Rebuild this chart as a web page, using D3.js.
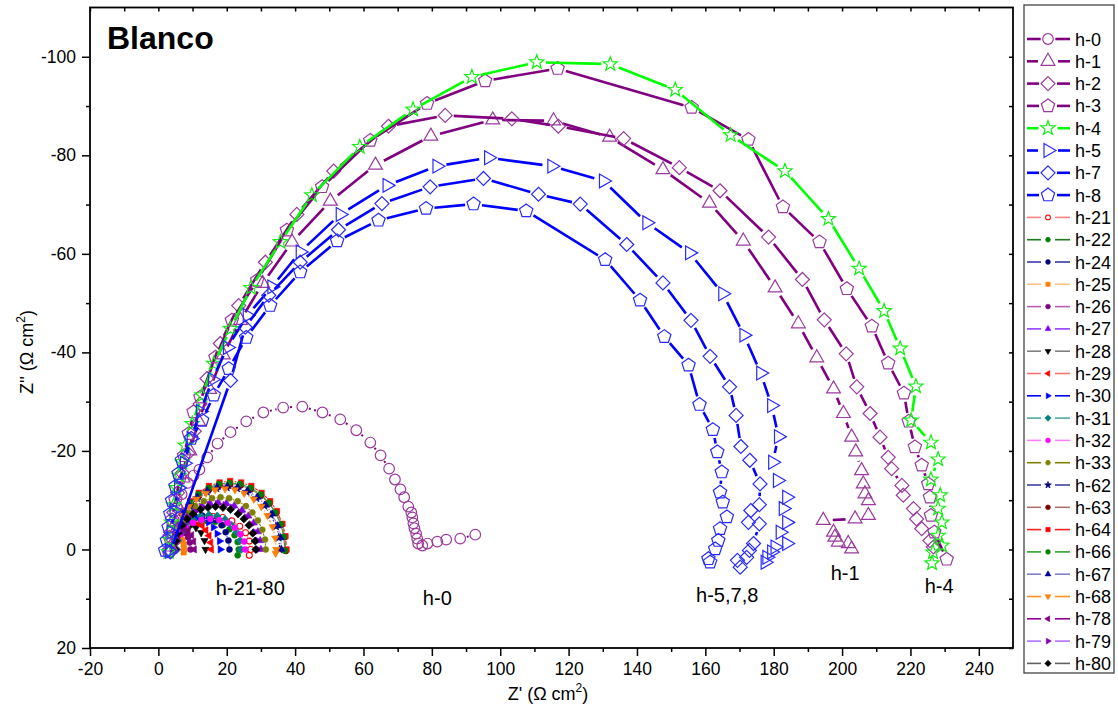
<!DOCTYPE html>
<html><head><meta charset="utf-8">
<script src="https://cdn.jsdelivr.net/npm/d3@7"></script>
<style>body{margin:0;background:#fff} text{font-family:"Liberation Sans",Arial,sans-serif}</style>
</head><body>
<svg id="c" width="1118" height="713"></svg>
<script>
// ---------- tick values ----------
const xTicks = [-20,0,20,40,60,80,100,120,140,160,180,200,220,240];
const xMinor = [-10,10,30,50,70,90,110,130,150,170,190,210,230];
const yTicks = [-100,-80,-60,-40,-20,0,20];
const yMinor = [-90,-70,-50,-30,-10,10];

// ---------- data: [Z', Z''] ----------
const h0 = [[3.2,0.5],[3.6,-2.5],[4.3,-5.5],[5.4,-8.5],[6.8,-11.2],[8.6,-13.5],[10.3,-15],[12.0,-16.2],[14.3,-18.7],[17.3,-21.5],[21.1,-23.8],[25.7,-26.0],[30.7,-27.8],[36.5,-28.8],[42.1,-29.0],[48.0,-27.8],[53.2,-26.4],[57.9,-24.2],[62.0,-21.7],[65.0,-19.1],[67.5,-16.4],[69.2,-14.2],[70.8,-12.2],[71.9,-10.6],[73.1,-8.7],[74.0,-7.5],[74.3,-6.5],[74.6,-5.3],[74.9,-4.3],[75.4,-3.2],[75.7,-2.2],[76.0,-1.2],[77.2,-0.8],[78.7,-1.2],[81.6,-1.6],[84.2,-2.0],[88.3,-2.2],[92.7,-3.0]];
const h1 = [[3.6,-0.5],[4.3,-4.5],[5.5,-9],[7.2,-14.5],[9.2,-20],[11.8,-26],[15,-32.5],[19,-39.5],[24,-46.5],[30.5,-54],[39.1,-62.4],[50.3,-70.7],[63.5,-78],[79.7,-83.9],[97.8,-87.2],[115.6,-87],[132,-83.7],[147.6,-77.1],[161.2,-70.3],[171.1,-62.6],[180.4,-53.1],[187.2,-45.8],[192.6,-38.9],[197.5,-32.6],[200.4,-27.6],[202.8,-22.8],[204,-19.8],[205.7,-16],[206.2,-13.3],[206.7,-11.3],[207.7,-9.9],[207.7,-6.9],[203.8,-6.2],[194.5,-5.9],[197.5,-3.5],[197.9,-2.5],[198.9,-1.5],[201.8,-1.2],[202.8,-0.1]];
const h2 = [[3.2,0],[3.6,-3.5],[4.5,-7.5],[5.6,-11.5],[7,-15.5],[8.6,-19.5],[10.5,-24],[12.2,-29.5],[14.2,-34.7],[18.1,-41.8],[23.5,-49.5],[31.3,-58.3],[40.5,-68],[51.3,-76.8],[67.3,-85.9],[83.9,-88.1],[103.4,-87.4],[117.0,-85.9],[136.1,-83.4],[152.4,-77.5],[164.3,-72.8],[178.5,-63.4],[188.4,-54.8],[194.8,-46.6],[201.2,-39.7],[204.3,-33.0],[208.2,-27.6],[211.1,-22.8],[213.5,-18.7],[214.5,-16.4],[217.5,-13.0],[217.9,-11.0],[220.9,-8.3],[221.8,-6.2],[223.3,-4.2],[225.7,-1.8],[226.7,-0.5]];
const h3 = [[3,0.5],[3.3,-2.5],[4,-6],[5,-10],[6.3,-14.5],[7.5,-19],[8.9,-23.5],[10.3,-27.9],[12.3,-30.9],[16.7,-39.0],[21.5,-46.5],[28.9,-54.6],[37.6,-64.8],[47.9,-73.6],[62.0,-83.0],[78.6,-90.5],[95.6,-95.1],[116.8,-97.6],[156.0,-89.7],[172.6,-83.2],[182.7,-69.5],[193.4,-62.4],[201.4,-52.9],[208.7,-45.3],[213.5,-37.8],[218.1,-31.7],[219.5,-26],[221.3,-20.8],[223.3,-17.1],[225.2,-13.3],[225.7,-10.6],[226.0,-6.9],[227,-3.5],[230.6,2.0]];
const h4 = [[3,0.5],[3.2,-2],[3.8,-5.5],[4.5,-9],[5.3,-12.5],[6.1,-15],[7.0,-17.7],[7.9,-21.1],[9.9,-25.5],[12.8,-31.3],[16.2,-37.7],[21.1,-44.8],[27.1,-53.1],[35.7,-62.4],[44.9,-71.9],[58.9,-81.7],[74.5,-89.3],[91.7,-95.9],[110.7,-98.9],[132.2,-98.5],[151.2,-93.3],[167.4,-84.1],[183.3,-76.8],[196.0,-67.1],[205.0,-57.0],[212.3,-48.4],[217.0,-40.8],[221.6,-33.1],[220.2,-26.2],[226.0,-21.7],[228.1,-18.3],[226.0,-14.2],[228.7,-11.0],[228.1,-8.3],[229.2,-5.5],[228.1,-2.8],[229.2,-0.8],[226.6,0.6],[226.3,2.8]];
const h5 = [[3.3,0.3],[3.7,-3.5],[4.6,-8],[5.9,-12.5],[7.6,-17.5],[9.6,-22.5],[12.3,-28],[15.8,-34.5],[20.2,-41],[26,-47.5],[33.2,-53.3],[41.5,-60.4],[53.2,-68],[66.9,-73.9],[81.5,-77.8],[96.6,-79.5],[115.1,-77.8],[130.2,-74.8],[142.9,-66.3],[155.4,-60.2],[165.1,-51.9],[171.3,-43.5],[176.2,-35.8],[179.4,-29.2],[181.4,-22.9],[179.7,-17.7],[181.1,-14],[183.8,-10.6],[182.8,-8.3],[183.8,-5.5],[181.9,-3.5],[183.8,-1.2],[180.4,-0.5],[179.4,0.5],[178,1.6],[177.5,2.6]];
const h7 = [[3.5,0.5],[21.1,-34.3],[25.4,-45.1],[32.3,-51.6],[41.5,-58.3],[52.7,-64.9],[65.4,-70.2],[79.5,-73.6],[95.1,-75.3],[111.2,-72.1],[123.4,-70.1],[137,-61.9],[147.6,-54.1],[155.8,-46.5],[161.4,-39.2],[167.1,-33],[169,-27.2],[170.4,-20.9],[173,-18.1],[176,-13.3],[175.8,-9.1],[173.3,-7.9],[172.6,-5.5],[175.8,-5.2],[174.1,-1.2],[172.9,0.2],[172.1,1.6],[169.4,2.2],[170.2,3.6]];
const h8 = [[2,0.2],[2.5,-1.8],[3,-4.5],[3.5,-7.2],[4,-9.9],[5,-12.8],[5.9,-15.4],[6.9,-18.1],[9.6,-22.5],[12.8,-26.2],[16.2,-31.3],[20.6,-36.7],[25.7,-43],[32.7,-49.5],[41.5,-56.3],[52.3,-62.6],[64.4,-66.8],[78.3,-69.2],[92.2,-70.1],[107.6,-68.7],[130.7,-58.8],[140.9,-50.6],[148,-43.2],[155.1,-37.4],[158.3,-29.4],[162.2,-24.3],[163.5,-19.8],[164.8,-15.7],[164.3,-11.6],[165.1,-9.6],[166.3,-6.6],[164.3,-4.2],[163.8,-1.8],[162.9,-0.1],[160.9,1.9],[161.4,2.6]];

const h21 = [[5,0],[5.4,-1.7],[6.5,-3.4],[8.2,-4.7],[10.5,-5.8],[13.2,-6.5],[16,-6.7],[18.8,-6.5],[21.5,-5.8],[23.8,-4.7],[25.5,-3.4],[26.6,-1.7],[27,0],[26.6,1.2]];
const h22 = [[4.9,0],[5.2,-1.5],[6.2,-2.9],[7.6,-4.1],[9.6,-5],[11.8,-5.6],[14.2,-5.8],[16.6,-5.6],[18.9,-5],[20.8,-4.1],[22.3,-2.9],[23.2,-1.5],[23.5,0],[23.2,1.2]];
const h24 = [[4.8,0],[5.1,-1.8],[5.9,-3.5],[7.1,-4.9],[8.8,-6],[10.7,-6.7],[12.8,-6.9],[14.9,-6.7],[16.8,-6],[18.5,-4.9],[19.7,-3.5],[20.5,-1.8],[20.8,0]];
const h25 = [[4.5,0],[4.6,-1],[4.9,-1.8],[5.4,-2.4],[6,-2.6],[6.6,-2.4],[7.1,-1.8],[7.4,-1],[7.5,0],[7.4,0.6]];
const h26 = [[4.8,0],[5,-1.4],[5.5,-2.5],[6.2,-3.3],[7.1,-3.6],[8,-3.3],[8.7,-2.5],[9.2,-1.4],[9.4,0]];
const h27 = [[5,0],[5.2,-1.8],[5.9,-3.6],[7.1,-5.4],[8.7,-6.8],[10.5,-8],[12.8,-8.9],[15.1,-9.4],[17.5,-9.6],[19.9,-9.4],[22.2,-8.9],[24.5,-8],[26.3,-6.8],[27.9,-5.4],[29.1,-3.6],[29.8,-1.8],[30,0]];
const h28 = [[4.6,0],[5,-1.8],[6,-3.4],[7.4,-4.4],[9.2,-4.8],[11,-4.4],[12.5,-3.4],[13.5,-1.8],[13.8,0]];
const h29 = [[4.5,0],[4.7,-1.4],[5.2,-2.8],[6.1,-3.9],[7.3,-4.8],[8.6,-5.3],[10,-5.5],[11.4,-5.3],[12.8,-4.8],[13.9,-3.9],[14.8,-2.8],[15.3,-1.4],[15.5,0]];
const h30 = [[4.3,0],[4.5,-1.7],[5.2,-3.2],[6.3,-4.5],[7.8,-5.5],[9.4,-6.2],[11.2,-6.4],[13,-6.2],[14.7,-5.5],[16.1,-4.5],[17.2,-3.2],[17.9,-1.7],[18.1,0]];
const h31 = [[5.4,0],[5.7,-1.8],[6.7,-3.5],[8.2,-4.9],[10.1,-6.1],[12.4,-6.8],[14.8,-7],[17.2,-6.8],[19.5,-6.1],[21.4,-4.9],[22.9,-3.5],[23.9,-1.8],[24.2,0]];
const h32 = [[5,0],[5.3,-1.6],[6.4,-3.1],[8,-4.4],[10.1,-5.4],[12.6,-6],[15.2,-6.2],[17.8,-6],[20.3,-5.4],[22.4,-4.4],[24,-3.1],[25.1,-1.6],[25.4,0]];
const h33 = [[5,0],[5.2,-2],[6,-4],[7.3,-5.9],[8.9,-7.5],[10.8,-8.8],[13.3,-9.8],[15.7,-10.4],[18.2,-10.6],[20.7,-10.4],[23.2,-9.8],[25.6,-8.8],[27.5,-7.5],[29.1,-5.9],[30.4,-4],[31.2,-2],[31.4,0]];
const h62 = [[4.5,0],[4.8,-2.4],[5.6,-4.7],[7.2,-7],[9,-8.9],[11.3,-10.4],[14.2,-11.7],[17,-12.4],[20,-12.6],[23,-12.4],[25.8,-11.7],[28.7,-10.4],[31,-8.9],[32.9,-7],[34.4,-4.7],[35.2,-2.4],[35.5,0]];
const h63 = [[4.7,0],[5,-2.5],[5.9,-5],[7.5,-7.4],[9.5,-9.3],[11.9,-10.9],[14.9,-12.2],[17.9,-13],[21,-13.2],[24.1,-13],[27.1,-12.2],[30.1,-10.9],[32.5,-9.3],[34.5,-7.4],[36.1,-5],[37,-2.5],[37.3,0.3]];
const h64 = [[4.5,0],[4.8,-2.7],[5.7,-5.2],[7.3,-7.8],[9.3,-9.8],[11.8,-11.5],[14.8,-12.9],[17.9,-13.6],[21,-13.9],[24.2,-13.6],[27.2,-12.9],[30.2,-11.5],[32.7,-9.8],[34.7,-7.8],[36.3,-5.2],[37.2,-2.7],[37.5,0]];
const h66 = [[4.6,0],[4.9,-2.6],[5.8,-5.1],[7.4,-7.5],[9.4,-9.5],[11.7,-11.2],[14.7,-12.5],[17.7,-13.3],[20.8,-13.5],[23.9,-13.3],[26.9,-12.5],[29.9,-11.2],[32.3,-9.5],[34.2,-7.5],[35.8,-5.1],[36.7,-2.6],[37,0.2]];
const h67 = [[4.4,0],[4.7,-2.4],[5.6,-4.8],[7.1,-7.2],[9,-9],[11.4,-10.6],[14.3,-11.9],[17.2,-12.6],[20.2,-12.8],[23.2,-12.6],[26.1,-11.9],[29,-10.6],[31.4,-9],[33.3,-7.2],[34.9,-4.8],[35.7,-2.4],[36,0]];
const h68 = [[4.5,0],[4.8,-2.3],[5.6,-4.6],[7.1,-6.9],[8.9,-8.7],[11.1,-10.2],[13.9,-11.4],[16.6,-12.1],[19.5,-12.3],[22.4,-12.1],[25.1,-11.4],[27.9,-10.2],[30.1,-8.7],[31.9,-6.9],[33.4,-4.6],[34.2,-2.3],[34.5,0],[34.3,0.8]];
const h78 = [[4.7,0],[4.9,-1.6],[5.5,-2.9],[6.5,-3.8],[7.6,-4.1],[8.7,-3.8],[9.7,-2.9],[10.3,-1.6],[10.5,0]];
const h79 = [[5.2,0],[5.4,-1.8],[6.1,-3.5],[7.3,-5.1],[8.7,-6.5],[10.5,-7.6],[12.7,-8.5],[14.9,-9],[17.2,-9.2],[19.5,-9],[21.7,-8.5],[23.9,-7.6],[25.7,-6.5],[27.2,-5.1],[28.3,-3.5],[29,-1.8],[29.2,0]];
const h80 = [[4.9,0],[5.1,-1.7],[5.8,-3.3],[6.9,-4.9],[8.4,-6.2],[10.1,-7.2],[12.3,-8.1],[14.5,-8.5],[16.7,-8.7],[18.9,-8.5],[21.1,-8.1],[23.3,-7.2],[25,-6.2],[26.5,-4.9],[27.6,-3.3],[28.3,-1.7],[28.5,0]];

// annotation labels [text, Z', Z''] (text anchored at middle, baseline)
const notes = [["h-21-80",26.9,9.3],["h-0",81.6,11.2],["h-5,7,8",166.4,10.6],["h-1",200.9,6.1],["h-4",228.4,8.9]];

// ---------- styles ----------
const PUR="#800080", PURM="#9a3a9e", BLU="#0000ff", BLUM="#2a2aff", GRN="#00ff00";
const big = [
  {name:"h-0", d:h0, lc:PUR, mc:PURM, m:"circle", R:5.3, dash:"2,3.5", lw:2},
  {name:"h-1", d:h1, lc:PUR, mc:PURM, m:"tu", R:8, lw:2.6},
  {name:"h-2", d:h2, lc:PUR, mc:PURM, m:"dm", R:7, lw:2.6},
  {name:"h-3", d:h3, lc:PUR, mc:PURM, m:"pent", R:7, lw:2.6},
  {name:"h-4", d:h4, lc:GRN, mc:"#11ee11", m:"star", R:7.5, lw:2.6},
  {name:"h-5", d:h5, lc:BLU, mc:BLUM, m:"tr", R:8, lw:2.6},
  {name:"h-7", d:h7, lc:BLU, mc:BLUM, m:"dm", R:7, lw:2.6},
  {name:"h-8", d:h8, lc:BLU, mc:BLUM, m:"pent", R:7, lw:2.6}
];
const small = [
  {name:"h-21", d:h21, lc:"#ff8080", mc:"#ff0000", m:"ocircle", R:3},
  {name:"h-22", d:h22, lc:"#207820", mc:"#008000", m:"circle", R:3},
  {name:"h-24", d:h24, lc:"#3838a8", mc:"#000080", m:"circle", R:3},
  {name:"h-25", d:h25, lc:"#ffc080", mc:"#ff8000", m:"sq", R:3.8},
  {name:"h-26", d:h26, lc:"#b860b8", mc:"#800080", m:"circle", R:3},
  {name:"h-27", d:h27, lc:"#9040ff", mc:"#8000ff", m:"tu", R:4.2},
  {name:"h-28", d:h28, lc:"#808080", mc:"#000000", m:"td", R:4.2},
  {name:"h-29", d:h29, lc:"#ff7070", mc:"#ff0000", m:"tl", R:4.2},
  {name:"h-30", d:h30, lc:"#0000ff", mc:"#0000ff", m:"tr", R:4.2},
  {name:"h-31", d:h31, lc:"#50a8a8", mc:"#008080", m:"dm", R:4},
  {name:"h-32", d:h32, lc:"#ff80ff", mc:"#ff00ff", m:"circle", R:3},
  {name:"h-33", d:h33, lc:"#808000", mc:"#808000", m:"circle", R:3},
  {name:"h-62", d:h62, lc:"#4040a0", mc:"#000080", m:"star", R:4.5},
  {name:"h-63", d:h63, lc:"#b07070", mc:"#800000", m:"circle", R:3},
  {name:"h-64", d:h64, lc:"#ff2020", mc:"#ff0000", m:"sq", R:3.8},
  {name:"h-66", d:h66, lc:"#30a030", mc:"#008000", m:"circle", R:3},
  {name:"h-67", d:h67, lc:"#8080d0", mc:"#0000a0", m:"tu", R:4.2},
  {name:"h-68", d:h68, lc:"#ff9020", mc:"#ff8000", m:"td", R:4.2},
  {name:"h-78", d:h78, lc:"#900090", mc:"#800080", m:"tl", R:4.2},
  {name:"h-79", d:h79, lc:"#b070ff", mc:"#8000c0", m:"tr", R:4.2},
  {name:"h-80", d:h80, lc:"#606060", mc:"#000000", m:"dm", R:4}
];

// ---------- drawing ----------
const svg = d3.select("#c");
const L=90, Rr=1013, T=7.5, B=648;
const x = d3.scaleLinear([-20,250],[L,Rr]);
const y = d3.scaleLinear([-110,20],[T,B]);

function poly(n,R,start){const p=[];for(let i=0;i<n;i++){const a=(start+i*360/n)*Math.PI/180;p.push([R*Math.cos(a),R*Math.sin(a)]);}return "M"+p.map(q=>q[0].toFixed(2)+","+q[1].toFixed(2)).join("L")+"Z";}
function star(R){const p=[];for(let i=0;i<10;i++){const r=i%2?R*0.42:R;const a=(-90+i*36)*Math.PI/180;p.push([r*Math.cos(a),r*Math.sin(a)]);}return "M"+p.map(q=>q[0].toFixed(2)+","+q[1].toFixed(2)).join("L")+"Z";}
function shape(m,R){
  switch(m){
    case "circle": case "ocircle": return d3.symbol(d3.symbolCircle, Math.PI*R*R)();
    case "tu": return poly(3,R,-90);
    case "td": return poly(3,R,90);
    case "tl": return poly(3,R,180);
    case "tr": return poly(3,R,0);
    case "dm": return poly(4,R,-90);
    case "sq": return poly(4,R,-45);
    case "pent": return poly(5,R,-90);
    case "star": return star(R);
  }
}
function gapLines(g, pts, gap, attrs){
  for(let i=0;i<pts.length-1;i++){
    const x0=pts[i][0],y0=pts[i][1],x1=pts[i+1][0],y1=pts[i+1][1];
    const dx=x1-x0,dy=y1-y0,len=Math.hypot(dx,dy);
    if(len<=2*gap+0.5) continue;
    const ux=dx/len,uy=dy/len;
    const ln=g.append("line").attr("x1",x0+ux*gap).attr("y1",y0+uy*gap).attr("x2",x1-ux*gap).attr("y2",y1-uy*gap);
    for(const k in attrs) ln.attr(k,attrs[k]);
  }
}

const plot = svg.append("g");
svg.append("clipPath").attr("id","cp").append("rect").attr("x",L).attr("y",T).attr("width",Rr-L).attr("height",B-T);
plot.attr("clip-path","url(#cp)");

function drawSeries(s,isBig){
  const g = plot.append("g");
  const pts = s.d.map(p=>[x(p[0]),y(p[1])]);
  const gap = isBig ? s.R+1.5 : s.R+0.8;
  const at = {stroke:s.lc,"stroke-width":isBig?s.lw:1.1,"stroke-linecap":"butt"};
  if(s.dash) at["stroke-dasharray"]=s.dash;
  gapLines(g,pts,gap,at);
  g.selectAll("path.m").data(pts).join("path").attr("class","m")
    .attr("transform",p=>`translate(${p[0]},${p[1]})`)
    .attr("d",shape(s.m,s.R))
    .attr("fill", isBig||s.m==="ocircle" ? "none" : s.mc)
    .attr("stroke", s.mc)
    .attr("stroke-width", isBig?1.2:(s.m==="ocircle"?1.1:0.6));
}
small.forEach(s=>drawSeries(s,false));
big.forEach(s=>drawSeries(s,true));

// frame
svg.append("rect").attr("x",L).attr("y",T).attr("width",Rr-L).attr("height",B-T).attr("fill","none").attr("stroke","#000").attr("stroke-width",1.8);

// axes
const fs = "17.5px";
const fmt = d => String(d);
const ax = svg.append("g").attr("transform",`translate(0,${B})`).call(d3.axisBottom(x).tickValues(xTicks).tickSize(8).tickPadding(7).tickFormat(fmt));
const axm = svg.append("g").attr("transform",`translate(0,${B})`).call(d3.axisBottom(x).tickValues(xMinor).tickSize(4).tickFormat(""));
const ay = svg.append("g").attr("transform",`translate(${L},0)`).call(d3.axisLeft(y).tickValues(yTicks).tickSize(8).tickPadding(6).tickFormat(fmt));
const aym = svg.append("g").attr("transform",`translate(${L},0)`).call(d3.axisLeft(y).tickValues(yMinor).tickSize(4).tickFormat(""));
const at2 = svg.append("g").attr("transform",`translate(0,${T})`).call(d3.axisBottom(x).tickValues(xTicks.concat(xMinor)).tickSize(4).tickFormat(""));
const ar2 = svg.append("g").attr("transform",`translate(${Rr},0)`).call(d3.axisLeft(y).tickValues(yTicks.concat(yMinor)).tickSize(4).tickFormat(""));
[ax,axm,ay,aym,at2,ar2].forEach(a=>{a.select(".domain").remove();a.selectAll("line").attr("stroke","#000").attr("stroke-width",1.5);a.selectAll("text").attr("font-size",fs).attr("font-family","Liberation Sans, Arial, sans-serif").attr("fill","#000");});

// title
svg.append("text").attr("x",107).attr("y",49).attr("font-size","32px").attr("font-weight","bold").text("Blanco");

// axis titles
const xt = svg.append("text").attr("x",548).attr("y",700).attr("text-anchor","middle").attr("font-size","18px");
xt.append("tspan").text("Z' (\u03A9  cm");
xt.append("tspan").attr("dy",-8).attr("font-size","12px").text("2");
xt.append("tspan").attr("dy",8).text(")");
const yt = svg.append("text").attr("transform","translate(33,352) rotate(-90)").attr("text-anchor","middle").attr("font-size","18px");
yt.append("tspan").text("Z'' (\u03A9 cm");
yt.append("tspan").attr("dy",-8).attr("font-size","12px").text("2");
yt.append("tspan").attr("dy",8).text(")");

// annotations
svg.selectAll("text.note").data(notes).join("text").attr("class","note")
  .attr("x",d=>x(d[1])).attr("y",d=>y(d[2])).attr("text-anchor","middle").attr("font-size","20px").text(d=>d[0]);

// legend
const lg = svg.append("g");
lg.append("rect").attr("x",1024).attr("y",5).attr("width",90).attr("height",668).attr("fill","#fff").attr("stroke","#444").attr("stroke-width",1.3);
const all = big.concat(small);
all.forEach((s,i)=>{
  const cy = 39 + i*22.3, cx = 1048;
  const isBig = i<big.length;
  const g = isBig ? s.R+2 : 7;
  const lw = isBig ? 2.6 : 1.6;
  const Rl = isBig ? s.R : s.R*0.8;
  lg.append("line").attr("x1",1027).attr("x2",cx-g).attr("y1",cy).attr("y2",cy).attr("stroke",s.lc).attr("stroke-width",lw);
  lg.append("line").attr("x1",cx+g).attr("x2",1070).attr("y1",cy).attr("y2",cy).attr("stroke",s.lc).attr("stroke-width",lw);
  lg.append("path").attr("transform",`translate(${cx},${cy})`).attr("d",shape(s.m,Rl))
    .attr("fill", isBig||s.m==="ocircle" ? "#fff" : s.mc).attr("stroke",s.mc).attr("stroke-width",isBig?1.2:(s.m==="ocircle"?1.1:0.6));
  lg.append("text").attr("x",1075).attr("y",cy+6.5).attr("font-size","18px").text(s.name);
});
</script>
</body></html>
